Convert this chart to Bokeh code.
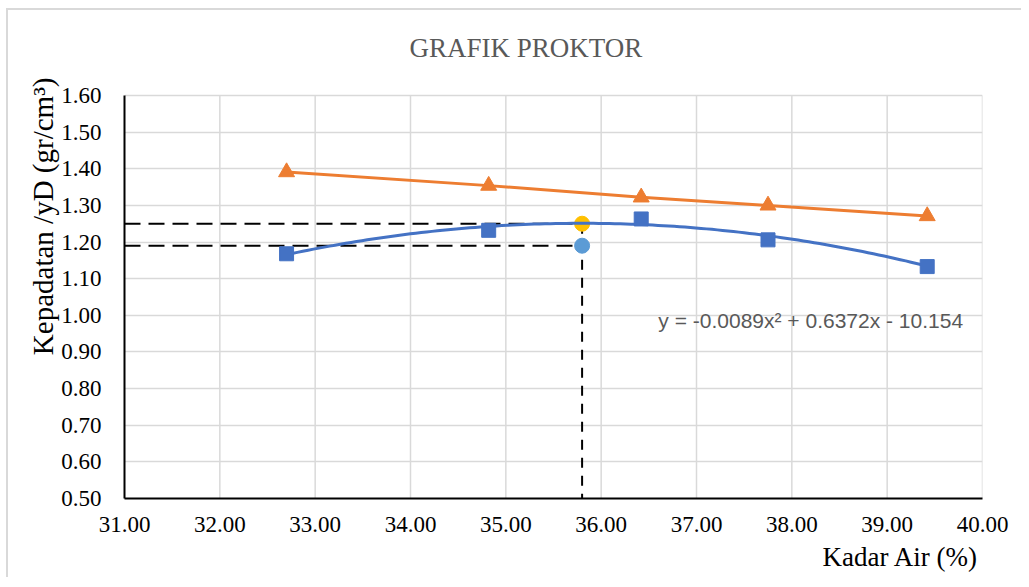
import numpy as np
from bokeh.plotting import figure
from bokeh.models import Range1d, FixedTicker, PrintfTickFormatter, Title, Label
from bokeh.embed import file_html
from bokeh.resources import INLINE

# ---- data ----
kadar_air = [32.70, 34.82, 36.42, 37.75, 39.42]          # water content (%)
kepadatan = [1.168, 1.232, 1.263, 1.206, 1.133]          # dry density (gr/cm3)
zav = [1.391, 1.354, 1.322, 1.300, 1.271]                # zero air voids line
trend_coef = [-0.0089, 0.6372, -10.154]                  # polynomial trendline
omc = [35.80]                                            # optimum water content
mdd = [1.25]                                             # max dry density
mdd95 = [1.19]                                           # 95% of max dry density
x_ticks = [31, 32, 33, 34, 35, 36, 37, 38, 39, 40]
y_ticks = [0.5, 0.6, 0.7, 0.8, 0.9, 1.0, 1.1, 1.2, 1.3, 1.4, 1.5, 1.6]

SERIF = "Liberation Serif"
Y_MIN, Y_MAX = y_ticks[0], y_ticks[-1]
PLOT_H = 403                      # pixel height of the 0.50-1.60 plot area
TOP_PAD = 80                      # extra room above 1.60 for the chart title
y_top = Y_MAX + TOP_PAD * (Y_MAX - Y_MIN) / PLOT_H

p = figure(frame_width=858, frame_height=PLOT_H + TOP_PAD,
           min_border_left=116, min_border_right=39,
           min_border_top=5, min_border_bottom=79,
           x_range=Range1d(x_ticks[0], x_ticks[-1]), y_range=Range1d(Y_MIN, y_top),
           output_backend="svg", toolbar_location=None,
           background_fill_color="white", border_fill_color="white")
p.styles = {"border-top": "2px solid #d9d9d9", "border-left": "2px solid #d9d9d9",
            "margin-top": "8px", "margin-left": "6px"}
p.outline_line_color = None

for ax in (p.xaxis[0], p.yaxis[0]):
    ax.axis_line_color = "black"
    ax.axis_line_width = 2
    ax.major_tick_line_color = None
    ax.minor_tick_line_color = None
    ax.major_label_text_font = SERIF
    ax.major_label_text_font_size = "23px"
    ax.major_label_text_color = "black"
    ax.formatter = PrintfTickFormatter(format="%.2f")

p.xaxis[0].ticker = FixedTicker(ticks=x_ticks)
p.yaxis[0].ticker = FixedTicker(ticks=y_ticks)
p.yaxis[0].bounds = (Y_MIN, Y_MAX)
p.xaxis[0].major_label_standoff = 12
p.yaxis[0].major_label_standoff = 17

p.xgrid.grid_line_color = None
p.ygrid.grid_line_color = "#d9d9d9"
p.ygrid.grid_line_width = 1.5
p.ygrid.ticker = FixedTicker(ticks=y_ticks)

# vertical grid lines limited to the 0.50-1.60 plot area
p.segment(x0=x_ticks[1:], y0=[Y_MIN] * (len(x_ticks) - 1),
          x1=x_ticks[1:], y1=[Y_MAX] * (len(x_ticks) - 1),
          line_color="#d9d9d9", line_width=1.5)

# chart title
p.add_layout(Label(x=33.99, y=1.731, text="GRAFIK PROKTOR", text_font=SERIF,
                   text_font_size="27px", text_color="#595959",
                   text_align="left", text_baseline="middle"))
# x axis title, right aligned
p.add_layout(Title(text="Kadar Air (%)", text_font=SERIF, text_font_size="27px",
                   text_font_style="normal", text_color="black",
                   align="right", offset=4, standoff=10), "below")
# y axis title
p.add_layout(Title(text="Kepadatan /yD (gr/cm³)", text_font=SERIF, text_font_size="29px",
                   text_font_style="normal", text_color="black",
                   align="right", offset=62, standoff=0), "left")

# dashed guide lines
p.line([x_ticks[0], omc[0]], [mdd[0], mdd[0]], line_color="black", line_width=2, line_dash="16 8")
p.line([x_ticks[0], omc[0]], [mdd95[0], mdd95[0]], line_color="black", line_width=2, line_dash="16 8")
p.line([omc[0], omc[0]], [mdd[0], Y_MIN], line_color="black", line_width=2, line_dash="10 8")

p.scatter(omc, mdd, marker="circle", size=15, fill_color="#FFC000", line_color="#FFC000")
p.scatter(omc, mdd95, marker="circle", size=15, fill_color="#5B9BD5", line_color="#5B9BD5")

# ZAV line
p.line(kadar_air, zav, line_color="#ED7D31", line_width=3)
p.scatter(kadar_air, zav, marker="triangle", size=16, fill_color="#ED7D31", line_color="#ED7D31")

# polynomial trendline from the displayed coefficients
xs = np.linspace(min(kadar_air), max(kadar_air), 120)
ys = np.polyval(trend_coef, xs)
p.line(xs, ys, line_color="#4472C4", line_width=3)
p.scatter(kadar_air, kepadatan, marker="square", size=14, fill_color="#4472C4", line_color="#4472C4")

p.add_layout(Label(x=36.6, y=0.985, text="y = -0.0089x² + 0.6372x - 10.154",
                   text_font="Liberation Sans", text_font_size="21px",
                   text_color="#595959", text_baseline="middle", text_align="left"))

open("out.html", "w").write(file_html(p, INLINE))
